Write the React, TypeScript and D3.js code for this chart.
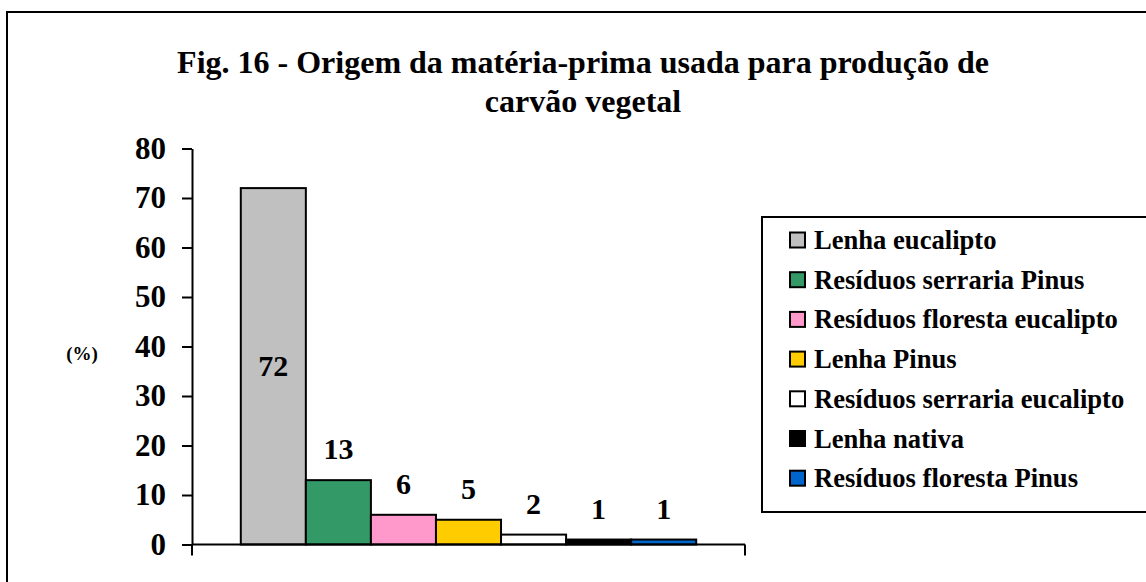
import { useEffect, useRef } from 'react';
import * as d3 from 'd3';

// data
const categories: string[] = [
  'Lenha eucalipto',
  'Resíduos serraria Pinus',
  'Resíduos floresta eucalipto',
  'Lenha Pinus',
  'Resíduos serraria eucalipto',
  'Lenha nativa',
  'Resíduos floresta Pinus',
];
const values: number[] = [72, 13, 6, 5, 2, 1, 1];
const colors: string[] = ['#C0C0C0', '#339966', '#FF99CC', '#FFCC00', '#FFFFFF', '#000000', '#0066CC'];
const yTicks: number[] = [0, 10, 20, 30, 40, 50, 60, 70, 80];
const titleLines: string[] = ['Fig. 16 - Origem da matéria-prima usada para produção de', 'carvão vegetal'];
const yLabel = '(%)';

const FONT = "'Times New Roman', 'Liberation Serif', Times, serif";

export default function App() {
  const ref = useRef<SVGSVGElement>(null);

  useEffect(() => {
    const svg = d3.select(ref.current);
    svg.selectAll('*').remove();

    const W = 1146;
    const H = 582;
    const plot = { left: 192, right: 745, top: 148.5, bottom: 544.5 };

    // outer chart border (runs off the right and bottom edges)
    svg.append('rect')
      .attr('x', 7).attr('y', 12)
      .attr('width', W + 20).attr('height', H + 20)
      .attr('fill', '#fff')
      .attr('stroke', '#000').attr('stroke-width', 2);

    // title
    svg.append('text')
      .attr('x', 583)
      .attr('text-anchor', 'middle')
      .attr('font-family', FONT).attr('font-weight', 'bold').attr('font-size', 32)
      .selectAll('tspan')
      .data(titleLines)
      .enter()
      .append('tspan')
      .attr('x', 583)
      .attr('y', (d, i) => 73 + i * 39)
      .text(d => d);

    // scales: one category, seven series, 150% gap width
    const y = d3.scaleLinear().domain([0, 80]).range([plot.bottom, plot.top]);
    const x = d3.scaleBand<string>()
      .domain(categories)
      .range([plot.left, plot.right])
      .paddingInner(0)
      .paddingOuter(0.75);

    // y axis
    const yAxis = svg.append('g')
      .attr('transform', `translate(${plot.left},0)`)
      .call(d3.axisLeft(y).tickValues(yTicks).tickSize(10).tickSizeOuter(0).tickPadding(16));
    yAxis.attr('font-family', FONT).attr('font-size', 31).attr('font-weight', 'bold');
    yAxis.select('.domain').attr('stroke', '#000').attr('stroke-width', 2);
    yAxis.selectAll('.tick line').attr('stroke', '#000').attr('stroke-width', 2);
    yAxis.selectAll('.tick text').attr('fill', '#000');

    // y label
    svg.append('text')
      .attr('x', 82).attr('y', 360)
      .attr('text-anchor', 'middle')
      .attr('font-family', FONT).attr('font-weight', 'bold').attr('font-size', 19)
      .text(yLabel);

    // bars
    svg.selectAll('rect.bar')
      .data(values)
      .enter()
      .append('rect')
      .attr('class', 'bar')
      .attr('x', (d, i) => x(categories[i]) as number)
      .attr('y', d => y(d))
      .attr('width', x.bandwidth())
      .attr('height', d => y(0) - y(d))
      .attr('fill', (d, i) => colors[i])
      .attr('stroke', '#000')
      .attr('stroke-width', 2);

    // x axis line with end ticks
    const xAxis = svg.append('g');
    xAxis.append('line')
      .attr('x1', plot.left).attr('x2', plot.right)
      .attr('y1', y(0)).attr('y2', y(0))
      .attr('stroke', '#000').attr('stroke-width', 2);
    xAxis.selectAll('line.edge')
      .data([plot.left, plot.right])
      .enter()
      .append('line')
      .attr('class', 'edge')
      .attr('x1', d => d).attr('x2', d => d)
      .attr('y1', y(0)).attr('y2', y(0) + 11)
      .attr('stroke', '#000').attr('stroke-width', 2);

    // value labels: first one centred inside, the rest above
    svg.selectAll('text.val')
      .data(values)
      .enter()
      .append('text')
      .attr('class', 'val')
      .attr('x', (d, i) => (x(categories[i]) as number) + x.bandwidth() / 2)
      .attr('y', (d, i) => (i === 0 ? (y(d) + y(0)) / 2 + 10 : y(d) - 21))
      .attr('text-anchor', 'middle')
      .attr('font-family', FONT).attr('font-weight', 'bold').attr('font-size', 30)
      .text(d => d);

    // legend
    const legend = svg.append('g');
    legend.append('rect')
      .attr('x', 762).attr('y', 217)
      .attr('width', 420).attr('height', 295)
      .attr('fill', '#fff')
      .attr('stroke', '#000').attr('stroke-width', 2);

    const rows = legend.selectAll('g.row')
      .data(categories)
      .enter()
      .append('g')
      .attr('class', 'row')
      .attr('transform', (d, i) => `translate(0,${240 + i * 39.7})`);

    rows.append('rect')
      .attr('x', 790).attr('y', -7.5)
      .attr('width', 15).attr('height', 15)
      .attr('fill', (d, i) => colors[i])
      .attr('stroke', '#000').attr('stroke-width', 2);

    rows.append('text')
      .attr('x', 814).attr('y', 9)
      .attr('font-family', FONT).attr('font-weight', 'bold').attr('font-size', 26.6)
      .text(d => d);
  }, []);

  return (
    <svg
      ref={ref}
      width={1146}
      height={582}
      style={{ position: 'absolute', left: 0, top: 0, background: '#fff' }}
    />
  );
}
